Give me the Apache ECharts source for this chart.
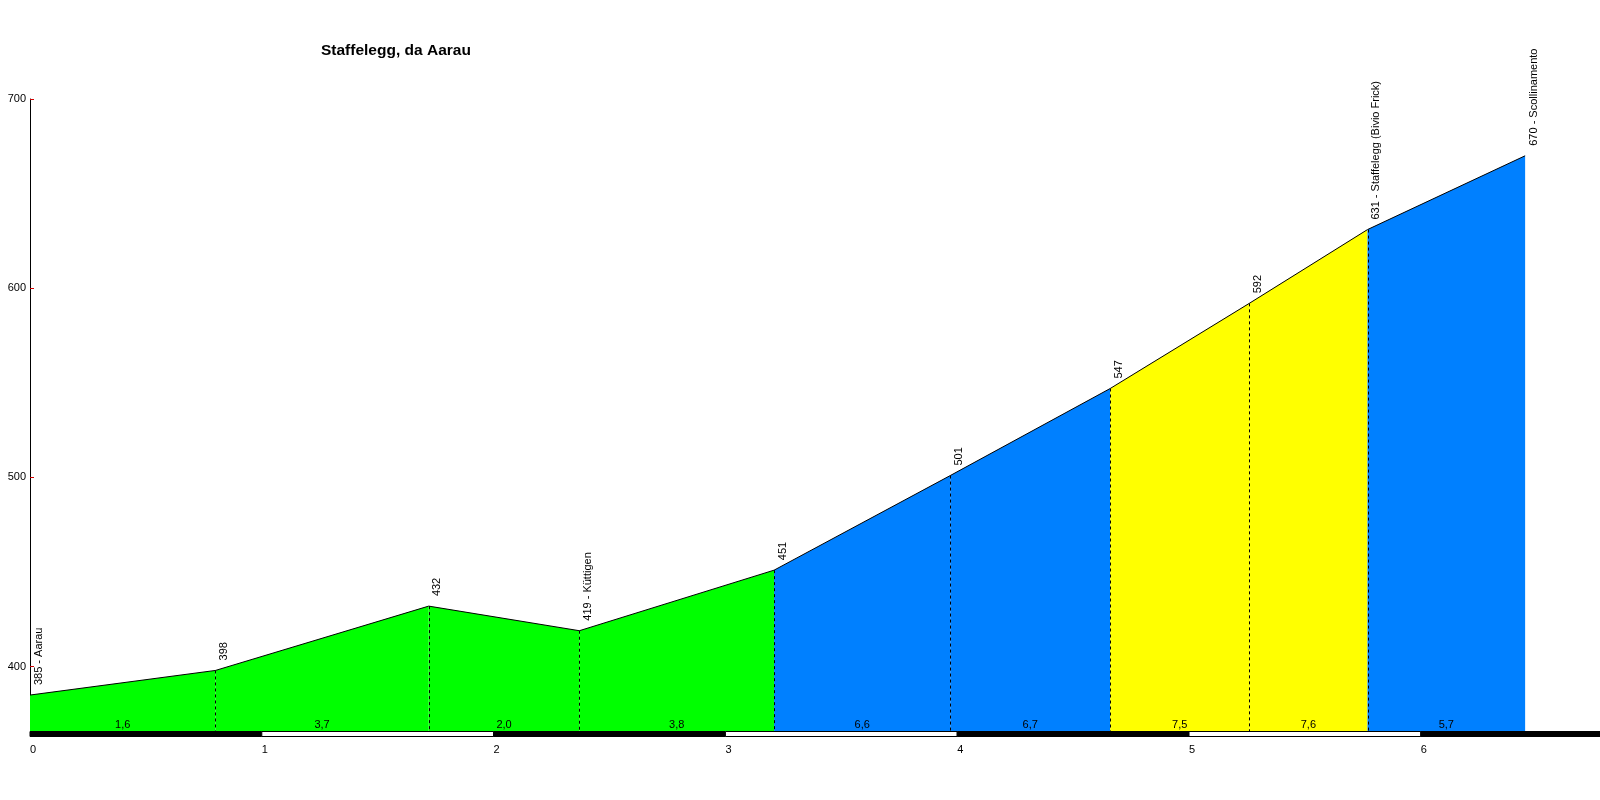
<!DOCTYPE html>
<html>
<head>
<meta charset="utf-8">
<script src="https://cdn.jsdelivr.net/npm/echarts@6/dist/echarts.min.js"></script>
<style>
html,body{margin:0;padding:0;background:#fff;}
#chart{width:1600px;height:800px;}
</style>
</head>
<body>
<div id="chart"></div>
<script>
// ---- data ----
const titleText = 'Staffelegg, da Aarau';
const distances = [0, 0.80, 1.72, 2.37, 3.21, 3.97, 4.66, 5.26, 5.77, 6.45];
const elevations = [385, 398, 432, 419, 451, 501, 547, 592, 631, 670];
const pointLabels = ['385 - Aarau', '398', '432', '419 - Küttigen', '451', '501', '547', '592', '631 - Staffelegg (Bivio Frick)', '670 - Scollinamento'];
const gradientLabels = ['1,6', '3,7', '2,0', '3,8', '6,6', '6,7', '7,5', '7,6', '5,7'];
const yTickValues = [400, 500, 600, 700];
const xTickValues = [0, 1, 2, 3, 4, 5, 6];
const X_MAX = 6.773;
const Y_MIN = 366;
const Y_MAX = 700;

// ---- styles ----
const FONT = '"Liberation Sans", Arial, sans-serif';
function gradientColor(g) {
  if (g < 4) return '#00ff00';
  if (g < 7) return '#0080ff';
  return '#ffff00';
}

// ---- derived series data ----
const segmentData = [];
for (let i = 0; i < distances.length - 1; i++) {
  segmentData.push([distances[i], elevations[i], distances[i + 1], elevations[i + 1], i]);
}
const pointData = distances.map((d, i) => [d, elevations[i], i]);
const scaleData = [];
for (let i = 0; i < xTickValues.length; i++) {
  const end = i + 1 < xTickValues.length ? xTickValues[i + 1] : X_MAX;
  scaleData.push([xTickValues[i], end, i]);
}

const chart = echarts.init(document.getElementById('chart'), null, {renderer: 'canvas'});

const option = {
  animation: false,
  backgroundColor: '#ffffff',
  title: {
    text: titleText,
    left: 321,
    top: 43,
    padding: 0,
    textStyle: {fontFamily: FONT, fontWeight: 'bold', fontSize: 15.5, color: '#000'}
  },
  grid: {left: 30, top: 99, height: 632, right: 0},
  xAxis: {
    type: 'value',
    min: 0,
    max: X_MAX,
    axisLine: {show: false},
    axisTick: {show: false},
    splitLine: {show: false},
    axisLabel: {
      customValues: xTickValues,
      align: 'left',
      margin: 13,
      fontFamily: FONT,
      fontSize: 11,
      color: '#000',
      formatter: v => String(v)
    }
  },
  yAxis: {
    type: 'value',
    min: Y_MIN,
    max: Y_MAX,
    axisLine: {show: true, lineStyle: {color: '#000', width: 1}},
    axisTick: {show: true, inside: true, length: 4, customValues: yTickValues, lineStyle: {color: '#d00000', width: 1}},
    splitLine: {show: false},
    axisLabel: {
      customValues: yTickValues,
      margin: 4,
      fontFamily: FONT,
      fontSize: 11,
      color: '#000'
    }
  },
  series: [
    {
      type: 'custom',
      name: 'profile',
      clip: false,
      data: segmentData,
      encode: {x: [0, 2], y: [1, 3]},
      renderItem: function (params, api) {
        const x0 = api.value(0), y0 = api.value(1), x1 = api.value(2), y1 = api.value(3), idx = api.value(4);
        const p0 = api.coord([x0, y0]);
        const p1 = api.coord([x1, y1]);
        const b0 = api.coord([x0, Y_MIN]);
        const b1 = api.coord([x1, Y_MIN]);
        const g = parseFloat(gradientLabels[idx].replace(',', '.'));
        const children = [
          {
            type: 'polygon',
            shape: {points: [[b0[0], b0[1]], [p0[0], p0[1]], [p1[0], p1[1]], [b1[0], b1[1]]]},
            style: {fill: gradientColor(g), stroke: null}
          },
          {
            type: 'line',
            shape: {x1: p0[0], y1: p0[1], x2: p1[0], y2: p1[1]},
            style: {stroke: '#000', lineWidth: 1}
          },
          {
            type: 'text',
            x: (b0[0] + b1[0]) / 2,
            y: b0[1] - 1,
            style: {
              text: gradientLabels[idx],
              font: '11px ' + FONT,
              fill: '#000',
              align: 'center',
              verticalAlign: 'bottom'
            }
          }
        ];
        if (idx > 0) {
          const xs = Math.round(p0[0]) + 0.5;
          children.push({
            type: 'line',
            shape: {x1: xs, y1: p0[1], x2: xs, y2: b0[1]},
            style: {stroke: '#000', lineWidth: 1, lineDash: [3, 3]}
          });
        }
        return {type: 'group', children: children};
      }
    },
    {
      type: 'custom',
      name: 'labels',
      clip: false,
      data: pointData,
      encode: {x: 0, y: 1},
      renderItem: function (params, api) {
        const p = api.coord([api.value(0), api.value(1)]);
        const idx = api.value(2);
        return {
          type: 'text',
          x: p[0] + 8.5,
          y: p[1] - 10,
          rotation: Math.PI / 2,
          style: {
            text: pointLabels[idx],
            font: '11px ' + FONT,
            fill: '#000',
            align: 'left',
            verticalAlign: 'middle'
          }
        };
      }
    },
    {
      type: 'custom',
      name: 'scale',
      clip: false,
      data: scaleData,
      encode: {x: [0, 1]},
      renderItem: function (params, api) {
        const a = api.coord([api.value(0), Y_MIN]);
        const b = api.coord([api.value(1), Y_MIN]);
        const idx = api.value(2);
        const dark = idx % 2 === 0;
        return {
          type: 'rect',
          shape: {x: a[0], y: a[1] + 0.5, width: b[0] - a[0], height: 5},
          style: {fill: dark ? '#000' : '#fff', stroke: '#000', lineWidth: 1}
        };
      }
    }
  ]
};
chart.setOption(option);
</script>
</body>
</html>
